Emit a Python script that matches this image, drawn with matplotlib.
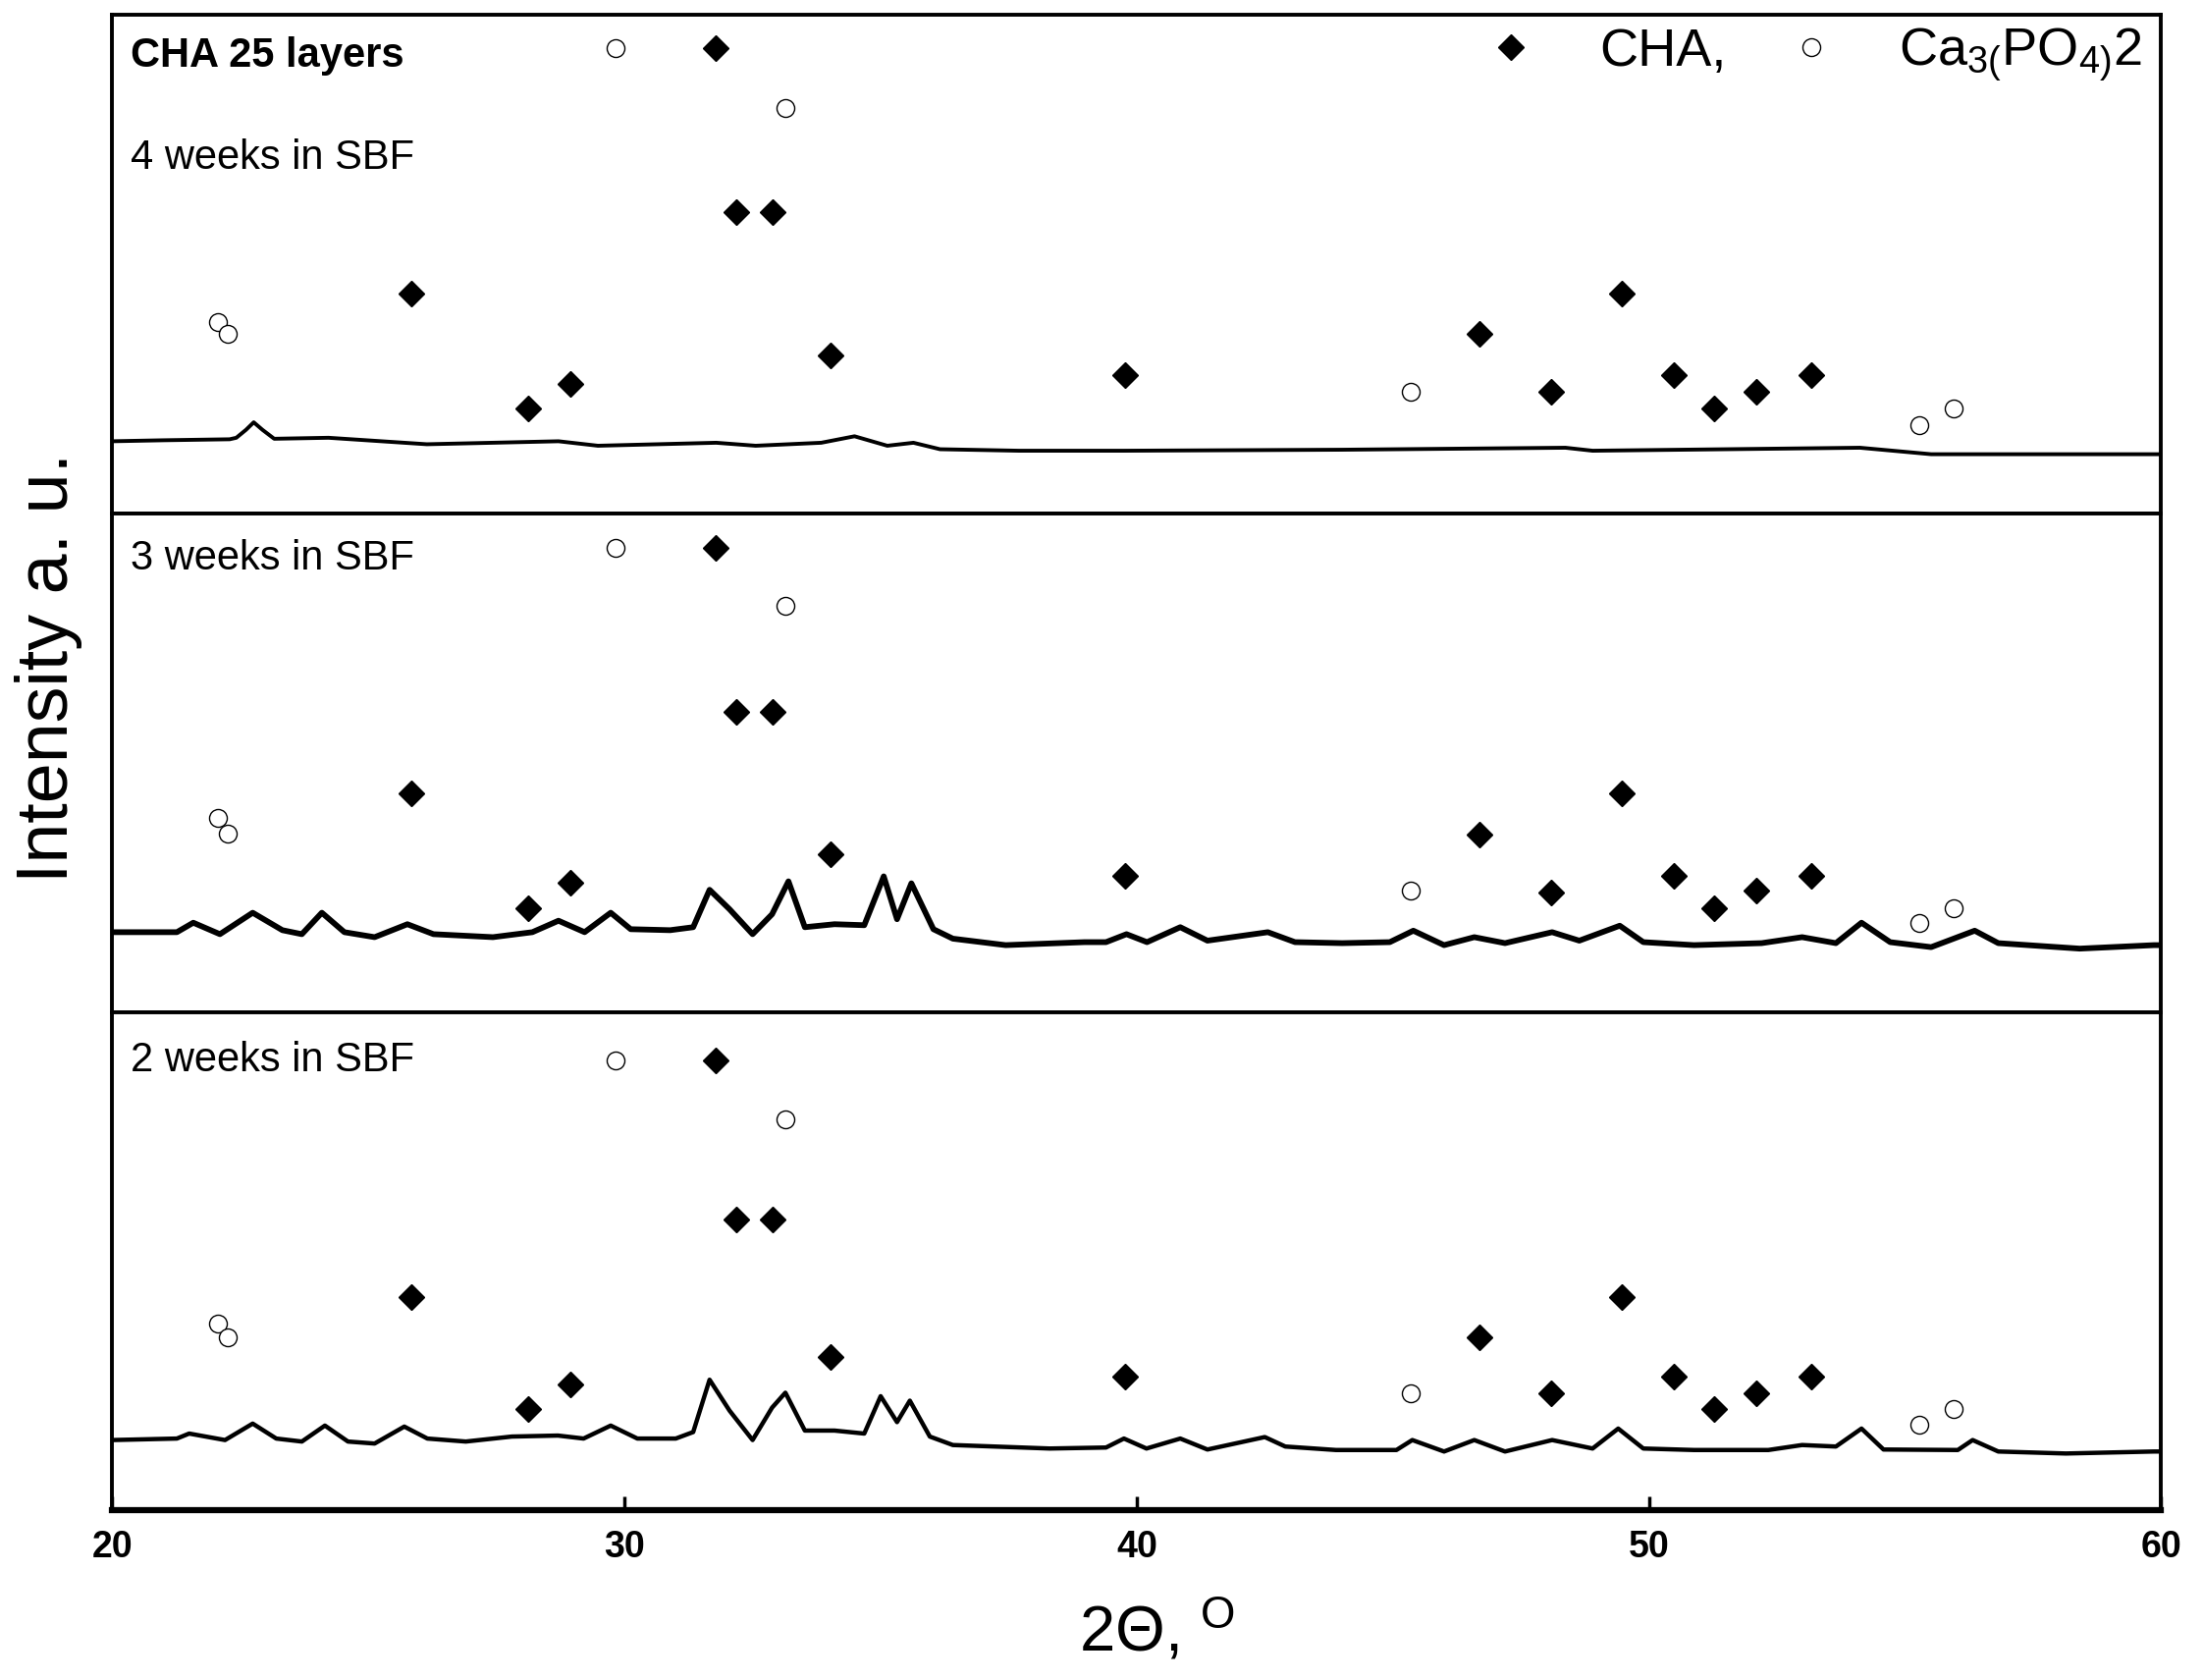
import matplotlib
matplotlib.use("Agg")
import matplotlib.pyplot as plt
from matplotlib.lines import Line2D

plt.rcParams['font.family'] = ['Liberation Sans', 'DejaVu Sans']
plt.rcParams['mathtext.fontset'] = 'custom'
plt.rcParams['mathtext.rm'] = 'Liberation Sans'
plt.rcParams['mathtext.it'] = 'Liberation Sans:italic'
plt.rcParams['mathtext.bf'] = 'Liberation Sans:bold'

# --- XRD traces (2theta, intensity in % of panel height) ---
tt_4w = [20.0, 21.0, 22.29, 22.42, 22.61, 22.76, 22.93, 23.16, 24.22, 26.14, 28.71,
         29.48, 31.79, 32.56, 33.84, 34.49, 35.13, 35.64, 36.16, 37.70, 39.75,
         44.0, 48.37, 48.9, 54.12, 55.51, 59.86, 60.0]
int_4w = [14.5, 14.7, 14.9, 15.2, 16.8, 18.3, 16.8, 15.0, 15.2, 13.9, 14.5,
          13.6, 14.2, 13.6, 14.2, 15.5, 13.6, 14.2, 12.9, 12.6, 12.6,
          12.8, 13.2, 12.6, 13.2, 11.9, 11.9, 11.9]

tt_3w = [20.0, 21.26, 21.58, 22.1, 22.74, 23.32, 23.70, 24.09, 24.53, 25.12, 25.76,
         26.27, 27.43, 28.20, 28.71, 29.22, 29.73, 30.12, 30.89, 31.34, 31.66, 32.05,
         32.50, 32.88, 33.20, 33.52, 34.10, 34.68, 35.06, 35.32, 35.60, 36.03, 36.41,
         37.44, 38.98, 39.4, 39.8, 40.2, 40.85, 41.38, 42.56, 43.09, 44.01, 44.94,
         45.40, 46.0, 46.59, 47.19, 48.11, 48.64, 49.43, 49.89, 50.88, 52.20, 52.99,
         53.65, 54.15, 54.71, 55.51, 56.36, 56.82, 58.41, 59.86, 60.0]
int_3w = [16.0, 16.0, 17.9, 15.6, 19.9, 16.4, 15.6, 19.9, 16.0, 15.0, 17.6,
          15.6, 15.0, 16.0, 18.3, 16.0, 19.9, 16.6, 16.4, 17.0, 24.5, 20.6,
          15.6, 19.6, 26.2, 17.0, 17.6, 17.4, 27.2, 18.6, 25.8, 16.6, 14.7,
          13.4, 14.0, 14.0, 15.6, 14.0, 17.0, 14.3, 16.0, 14.0, 13.8, 14.0,
          16.3, 13.4, 15.0, 13.8, 16.0, 14.3, 17.3, 14.0, 13.4, 13.8, 15.0,
          13.8, 17.9, 14.0, 13.0, 16.3, 13.8, 12.7, 13.4, 13.4]

tt_2w = [20.0, 21.26, 21.5, 22.2, 22.74, 23.2, 23.7, 24.15, 24.6, 25.12, 25.7,
         26.15, 26.9, 27.8, 28.7, 29.2, 29.73, 30.25, 31.0, 31.34, 31.66, 32.05,
         32.5, 32.88, 33.14, 33.52, 34.1, 34.68, 35.0, 35.32, 35.57, 35.96, 36.41,
         38.3, 39.4, 39.75, 40.19, 40.85, 41.38, 42.5, 42.9, 43.89, 45.07, 45.38,
         46.0, 46.59, 47.19, 48.11, 48.9, 49.4, 49.89, 50.88, 52.33, 52.99, 53.65,
         54.15, 54.58, 56.03, 56.32, 56.82, 58.14, 59.86, 60.0]
int_2w = [14.1, 14.4, 15.4, 14.1, 17.4, 14.4, 13.8, 17.0, 13.8, 13.4, 16.8,
          14.4, 13.8, 14.8, 15.0, 14.4, 17.0, 14.4, 14.4, 15.7, 26.2, 20.0,
          14.1, 20.6, 23.6, 16.0, 16.0, 15.4, 22.9, 17.7, 22.0, 14.8, 13.1,
          12.4, 12.6, 14.4, 12.4, 14.4, 12.2, 14.7, 12.8, 12.1, 12.1, 14.1,
          11.8, 14.1, 11.8, 14.1, 12.4, 16.4, 12.4, 12.1, 12.1, 13.1, 12.8,
          16.4, 12.2, 12.1, 14.1, 11.8, 11.4, 11.8, 11.8]

# --- phase markers (peak position, marker height) ---
cha_x = [25.84, 28.12, 28.94, 31.77, 32.18, 32.89, 34.02, 39.78, 46.69, 48.09,
         49.47, 50.48, 51.28, 52.10, 53.17]
cha_y_4w = [44.1, 21.1, 26.1, 93.4, 60.5, 60.5, 31.8, 27.8, 36.0, 24.5, 44.1, 27.8, 21.1, 24.5, 27.8]
cha_y_3w = [43.9, 20.9, 26.0, 93.2, 60.2, 60.2, 31.6, 27.4, 35.6, 24.0, 43.8, 27.4, 20.9, 24.3, 27.4]
cha_y_2w = [42.8, 20.3, 25.2, 90.3, 58.4, 58.4, 30.8, 26.8, 34.7, 23.5, 42.8, 26.8, 20.3, 23.5, 26.8]

ca_x = [22.06, 22.25, 29.82, 33.14, 45.35, 55.28, 55.94]
ca_y_4w = [38.5, 36.0, 93.4, 81.3, 24.5, 17.7, 21.1]
ca_y_3w = [39.0, 35.7, 93.2, 81.4, 24.3, 17.8, 20.9]
ca_y_2w = [37.4, 34.8, 90.3, 78.5, 23.5, 17.2, 20.3]

panel_labels = ['4 weeks in SBF', '3 weeks in SBF', '2 weeks in SBF']
label_y = [0.714, 0.909, 0.903]
x_ticks = [20, 30, 40, 50, 60]

traces = [(tt_4w, int_4w, 2.8), (tt_3w, int_3w, 4.2), (tt_2w, int_2w, 3.2)]
marks = [(cha_y_4w, ca_y_4w), (cha_y_3w, ca_y_3w), (cha_y_2w, ca_y_2w)]

fig = plt.figure(figsize=(22.44, 17.11), dpi=100)
axs = fig.subplots(3, 1, sharex=True, gridspec_kw=dict(hspace=0))
fig.subplots_adjust(left=0.051, right=0.981, top=0.991, bottom=0.101)

for i, ax in enumerate(axs):
    tt, inten, lw = traces[i]
    ax.plot(tt, inten, color='black', lw=lw)
    cy, oy = marks[i]
    ax.plot(cha_x, cy, ls='none', marker='D', ms=13, color='black')
    ax.plot(ca_x, oy, ls='none', marker='o', ms=13, mfc='white', mec='black', mew=1.0)
    ax.set_xlim(20, 60)
    ax.set_ylim(0, 100)
    ax.set_yticks([])
    for sp in ax.spines.values():
        sp.set_linewidth(2.8)
    ax.text(0.009, label_y[i], panel_labels[i], transform=ax.transAxes,
            va='center', ha='left', fontsize=30)
    if i < 2:
        ax.tick_params(axis='x', bottom=False, labelbottom=False)

axs[0].text(0.009, 0.918, 'CHA 25 layers', transform=axs[0].transAxes,
            va='center', ha='left', fontsize=30, fontweight='bold')

h1 = Line2D([], [], ls='none', marker='D', ms=13, color='black')
h2 = Line2D([], [], ls='none', marker='o', ms=13, mfc='white', mec='black', mew=1.0)
axs[0].legend([h1, h2], ['CHA,', r'Ca$_{3(}$PO$_{4)}$2'], ncol=2, loc='upper right',
              bbox_to_anchor=(0.996, 1.0), frameon=False, fontsize=39,
              handlelength=1.0, handletextpad=1.15, columnspacing=1.1,
              borderaxespad=0.1, borderpad=0.1)

bottom = axs[2]
bottom.spines['bottom'].set_linewidth(4.5)
bottom.set_xticks(x_ticks)
bottom.tick_params(axis='x', direction='in', length=10, width=2.5, pad=14, labelsize=27)
for lab in bottom.get_xticklabels():
    lab.set_fontweight('bold')
bottom.set_xlabel(r'2Θ, $^{\mathregular{O}}$', fontsize=47, labelpad=24)
bottom.xaxis.label.set_x(0.51)

fig.text(0.022, 0.6026, 'Intensity a. u.', rotation=90, va='center', ha='center', fontsize=53)

fig.savefig('out.png', dpi=100)
